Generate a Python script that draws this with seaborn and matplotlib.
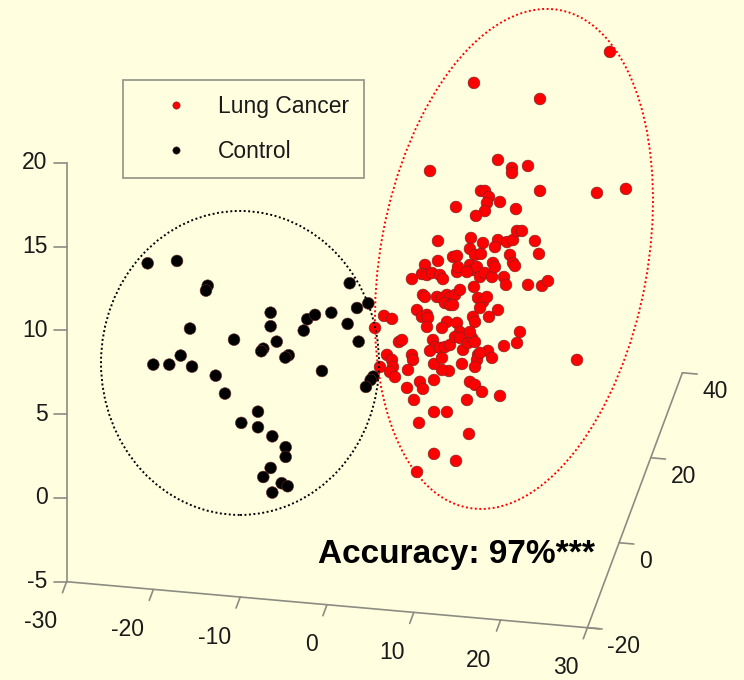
import numpy as np
import pandas as pd
import seaborn as sns
import matplotlib
matplotlib.use("Agg")
import matplotlib.pyplot as plt
from matplotlib.patches import Ellipse
from matplotlib import transforms

# ---------------- data (projected plane: u ~ x-axis units, v ~ z-axis units) -------------
cancer_u = [32.60, 16.93, 24.54, 11.87, 19.70, 21.31, 21.31, 23.16, 24.54, 31.10, 34.44,
            17.74, 18.20, 18.66, 18.43, 18.20, 19.93, 21.77, 17.16, 14.86, 12.79, 16.59,
            17.97, 19.70, 20.74, 21.43, 21.89, 22.46, 23.96, 24.42, 19.35, 16.47, 17.05,
            17.74, 14.52, 14.98, 12.79, 11.29, 10.94, 11.52, 12.10, 13.02, 13.36, 14.98,
            15.09, 16.47, 16.82, 17.28, 16.13, 17.63, 18.20, 19.01, 19.12, 19.35, 21.08,
            21.43, 21.66, 20.39, 20.62, 16.93, 23.16, 24.77, 25.46, 9.79, 11.06, 11.29,
            12.67, 13.25, 13.82, 14.17, 14.75, 15.32, 13.59, 14.17, 14.52, 17.40, 17.97,
            18.43, 17.63, 19.70, 10.37, 10.94, 11.52, 11.64, 11.52, 13.82, 13.25, 14.98,
            15.32, 16.82, 17.05, 18.66, 6.57, 7.49, 5.53, 8.29, 8.64, 12.21, 12.44, 11.87,
            13.02, 13.59, 14.17, 14.75, 15.32, 15.67, 16.24, 16.70, 17.05, 16.47, 22.23,
            21.89, 20.39, 18.55, 19.01, 17.40, 17.28, 17.05, 15.55, 14.05, 13.25, 12.33,
            12.33, 9.79, 9.91, 9.33, 6.91, 7.49, 7.60, 7.26, 7.83, 6.11, 9.22, 10.71,
            11.06, 10.02, 16.47, 17.05, 17.86, 16.13, 19.93, 12.33, 13.82, 10.60, 16.36,
            12.33, 14.86, 10.37, 28.80, 13.25, 17.63]
cancer_v = [26.63, 24.78, 23.82, 19.52, 20.18, 19.70, 19.40, 19.82, 18.33, 18.21, 18.45,
            18.33, 18.33, 17.97, 17.61, 17.13, 17.67, 17.25, 16.84, 17.37, 15.34, 15.52,
            15.22, 15.40, 15.28, 15.40, 15.94, 15.94, 15.34, 14.57, 14.98, 14.87, 14.51,
            14.57, 14.39, 14.45, 14.15, 13.91, 13.37, 13.31, 13.43, 13.31, 13.07, 13.49,
            13.79, 13.91, 13.61, 13.79, 13.49, 13.19, 13.43, 13.19, 14.03, 13.79, 14.51,
            14.03, 13.85, 13.19, 12.72, 12.60, 12.72, 12.66, 12.95, 13.07, 12.12, 12.00,
            12.00, 11.94, 12.12, 11.94, 12.12, 12.42, 11.64, 11.52, 11.52, 11.94, 11.70,
            12.00, 11.34, 11.22, 11.22, 10.81, 10.93, 10.75, 10.21, 10.51, 10.15, 10.45,
            9.91, 10.81, 10.51, 10.81, 10.87, 10.69, 10.15, 9.31, 9.43, 9.43, 9.01, 8.78,
            8.96, 9.01, 9.13, 9.61, 9.55, 8.84, 9.25, 9.55, 9.31, 9.91, 9.91,
            9.25, 9.07, 8.78, 8.36, 8.54, 8.24, 7.82, 8.00, 7.58, 7.64, 8.00,
            7.04, 8.54, 8.24, 7.64, 8.54, 8.24, 7.82, 7.52, 7.22, 7.82, 6.57, 6.93,
            6.51, 5.85, 6.93, 6.75, 6.33, 5.85, 6.09, 5.13, 5.13, 4.48, 3.82,
            2.63, 2.21, 1.55, 8.24, 8.36, 8.66]

control_u = [-20.66, -17.28, -13.74, -13.94, -15.78, -10.71, -6.49, -6.49, -5.79, -7.34,
             -7.57, -4.41, -4.80, -20.01, -18.17, -16.85, -15.55, -12.82, -11.75, -7.95,
             -9.87, -7.95, -6.30, -4.76, -4.76, -6.49, -7.34, -5.22, -4.53, -6.30,
             -2.68, -2.27, -1.38, 0.50, 2.62, 3.46, 4.76, 2.38, 3.65, -0.58, 5.33, 5.03, 4.49]
control_v = [14.01, 14.15, 12.67, 12.38, 10.11, 9.45, 11.06, 10.25, 9.33, 8.91,
             8.76, 8.52, 8.38, 7.96, 7.96, 8.50, 7.84, 7.30, 6.23, 5.15,
             4.48, 4.22, 3.68, 3.03, 2.45, 1.79, 1.25, 0.88, 0.70, 0.32,
             9.99, 10.67, 10.93, 11.06, 12.82, 11.34, 11.62, 10.39, 9.33, 7.58, 7.24, 7.04, 6.63]

groups = ["Lung Cancer", "Control"]
colors = ["#ff0000", "#000000"]

z_ticks = [-5, 0, 5, 10, 15, 20]
x_ticks = [-30, -20, -10, 0, 10, 20, 30]
y_ticks = [-20, 0, 20, 40]
accuracy_text = "Accuracy: 97%***"

df = pd.DataFrame({
    "u": cancer_u + control_u,
    "v": cancer_v + control_v,
    "group": [groups[0]] * len(cancer_u) + [groups[1]] * len(control_u),
})

# ---------------- style ----------------
BG = "#ffffe0"
sns.set_style("white")
plt.rcParams["font.family"] = ["Liberation Sans", "DejaVu Sans"]

fig = plt.figure(figsize=(7.44, 6.80), dpi=100)
fig.patch.set_facecolor(BG)
ax = fig.add_axes([0, 0, 1, 1])
ax.set_facecolor(BG)
ax.set_xlim(-37.67, 48.04)
ax.set_ylim(-10.87, 29.73)
ax.axis("off")


def proj(x, y, z):
    """oblique projection of the 3-D box coordinates onto the drawing plane"""
    return x + 0.1824 * (y + 20), z - 0.0458 * (x + 30) + 0.2537 * (y + 20)


axc = "#8c8c82"
lw = 1.2
tick_fs = 16.5
# vertical (z) axis
ax.plot([-30, -30], [z_ticks[0], z_ticks[-1]], color=axc, lw=lw, zorder=1)
for z in z_ticks:
    ax.plot([-30, -31.5], [z, z], color=axc, lw=lw, zorder=1)
    ax.text(-32.2, z, f"{z}", ha="right", va="center", fontsize=tick_fs, color="#1a1a1a")

# x axis (front bottom)
p0 = proj(x_ticks[0], -20, -5)
p1 = proj(x_ticks[-1] + 1.4, -20, -5)
ax.plot([p0[0], p1[0]], [p0[1], p1[1]], color=axc, lw=lw, zorder=1)
for x in x_ticks:
    a = proj(x, -20, -5)
    b = proj(x, -22.6, -5)
    ax.plot([a[0], b[0]], [a[1], b[1]], color=axc, lw=lw, zorder=1)
    ax.text(a[0] - 1.04, a[1] - 2.39, f"{x}", ha="right", va="center",
            fontsize=tick_fs, color="#1a1a1a")

# y axis (right, receding)
q0 = proj(30, y_ticks[0], -5)
q1 = proj(30, y_ticks[-1], -5)
ax.plot([q0[0], q1[0]], [q0[1], q1[1]], color=axc, lw=lw, zorder=1)
for y in y_ticks:
    a = proj(30, y, -5)
    b = proj(31.7, y, -5)
    ax.plot([a[0], b[0]], [a[1], b[1]], color=axc, lw=lw, zorder=1)
    ax.text(a[0] + 2.30, a[1] - 1.13, f"{y}", ha="left", va="center",
            fontsize=tick_fs, color="#1a1a1a")

# ---------------- scatter ----------------
sns.scatterplot(data=df, x="u", y="v", hue="group", hue_order=groups,
                palette=dict(zip(groups, colors)), s=72, linewidth=0.4,
                edgecolor="#6a2a2a", ax=ax, zorder=3)

# dotted ellipses (sizes in inches, centred at data positions)
black_c = (-10.02, 8.06)
red_c = (21.54, 14.27)
t_b = fig.dpi_scale_trans + transforms.ScaledTranslation(black_c[0], black_c[1], ax.transData)
t_r = fig.dpi_scale_trans + transforms.ScaledTranslation(red_c[0], red_c[1], ax.transData)
ax.add_patch(Ellipse((0, 0), 2.78, 3.04, angle=0, transform=t_b, fill=False,
                     edgecolor="black", lw=1.4, linestyle=(0, (1, 1.3)), zorder=4))
ax.add_patch(Ellipse((0, 0), 5.06, 2.67, angle=79.6, transform=t_r, fill=False,
                     edgecolor="#ff0000", lw=1.4, linestyle=(0, (1, 1.3)), zorder=4))

# accuracy annotation
ax.text(-1.04, -3.40, accuracy_text, ha="left", va="center", fontsize=24,
        fontweight="bold", color="black")

# legend
leg = ax.legend(loc="upper left", bbox_to_anchor=(123 / 744, 1 - 80 / 680),
                fontsize=16.5, frameon=True, fancybox=False, framealpha=1,
                facecolor=BG, edgecolor="#9a9a8c", borderpad=0.67,
                handlelength=3.3, handletextpad=0.17, labelspacing=0.93,
                markerscale=0.62, borderaxespad=0)
leg.get_frame().set_linewidth(1.3)
for t in leg.get_texts():
    t.set_color("#1a1a1a")

fig.savefig("out.png", dpi=100, facecolor=BG)
